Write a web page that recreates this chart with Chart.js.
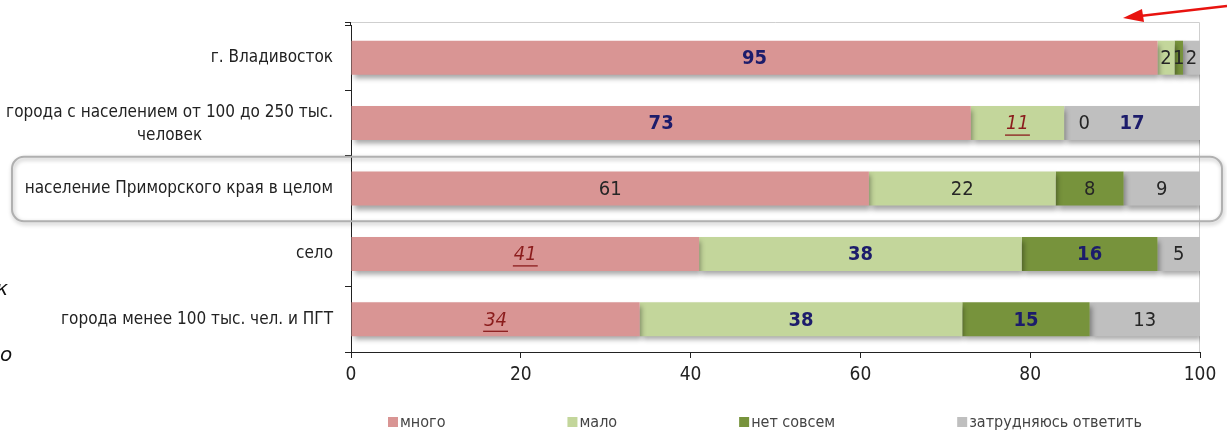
<!DOCTYPE html>
<html>
<head>
<meta charset="utf-8">
<script src="https://cdn.jsdelivr.net/npm/chart.js@4"></script>
<style>
  html, body { margin: 0; padding: 0; background: #fff; }
  #wrap { width: 1227px; height: 431px; position: relative; }
</style>
</head>
<body>
<div id="wrap"><canvas id="barChart"></canvas></div>
<script>
const groups = [
    "г. Владивосток",
    ["города с населением от 100 до 250 тыс.", "человек"],
    "население Приморского края в целом",
    "село",
    "города менее 100 тыс. чел. и ПГТ"
];
const series = ['много', 'мало', 'нет совсем', 'затрудняюсь ответить'];
const mnogo = [95, 73, 61, 41, 34];
const malo = [2, 11, 22, 38, 38];
const netSovsem = [1, 0, 8, 16, 15];
const zatrud = [2, 17, 9, 5, 13];
const xTicks = [0, 20, 40, 60, 80, 100];
// hi = выше среднего, lo = ниже среднего
const marks = [
    ['hi', 'hi', '', 'lo', 'lo'],
    ['', 'lo', '', 'hi', 'hi'],
    ['', '', '', 'hi', 'hi'],
    ['', 'hi', '', '', '']
];
const colors = ['#d99594', '#c3d69b', '#77933c', '#bfbfbf'];

const FONT = "'Liberation Sans Narrow', 'DejaVu Sans Condensed', 'Noto Sans', sans-serif";
const HILITE = 2; // строка в рамке

// тень под полосами
const shadowPlugin = {
    id: 'shadow',
    beforeDatasetsDraw(chart) {
        const ctx = chart.ctx;
        ctx.save();
        ctx.shadowColor = 'rgba(0,0,0,0.35)';
        ctx.shadowBlur = 5;
        ctx.shadowOffsetX = 2;
        ctx.shadowOffsetY = 4;
    },
    afterDatasetsDraw(chart) {
        chart.ctx.restore();
    }
};

// рамка области, подписи категорий, подписи значений, легенда, выделение, стрелка
const decorPlugin = {
    id: 'decor',
    beforeDraw(chart) {
        const { ctx, chartArea: a } = chart;
        ctx.save();
        ctx.strokeStyle = '#cfcfcf';
        ctx.lineWidth = 1;
        ctx.beginPath();
        ctx.moveTo(a.left, a.top - 2.5);
        ctx.lineTo(a.right - 0.5, a.top - 2.5);
        ctx.lineTo(a.right - 0.5, a.bottom);
        ctx.stroke();
        ctx.strokeStyle = '#222';
        ctx.beginPath();
        ctx.moveTo(a.left - 0.5, a.top - 3);
        ctx.lineTo(a.left - 0.5, a.top);
        ctx.moveTo(a.left - 6, a.top - 2.5);
        ctx.lineTo(a.left, a.top - 2.5);
        ctx.stroke();
        ctx.restore();
    },
    afterDraw(chart) {
        const { ctx, chartArea: a } = chart;
        const y = chart.scales.y;
        ctx.save();

        // подписи категорий
        ctx.fillStyle = '#222';
        ctx.font = '17px ' + FONT;
        ctx.textBaseline = 'middle';
        groups.forEach((g, i) => {
            const cy = y.getPixelForValue(i);
            const right = a.left - 18;
            if (Array.isArray(g)) {
                const w0 = ctx.measureText(g[0]).width;
                ctx.textAlign = 'right';
                ctx.fillText(g[0], right, cy - 11);
                ctx.textAlign = 'center';
                ctx.fillText(g[1], right - w0 / 2, cy + 12);
            } else {
                ctx.textAlign = 'right';
                ctx.fillText(g, right, cy);
            }
        });

        // подписи значений
        chart.data.datasets.forEach((ds, di) => {
            const meta = chart.getDatasetMeta(di);
            meta.data.forEach((bar, i) => {
                const v = ds.data[i];
                const x0 = Math.max(bar.base, a.left);
                const x1 = Math.min(bar.x, a.right);
                let cx = (x0 + x1) / 2;
                if (v === 0) cx += 20;
                const m = marks[di][i];
                const txt = String(v);
                if (m === 'hi') {
                    ctx.font = 'bold 20px ' + FONT;
                    ctx.fillStyle = '#1c1c6b';
                } else if (m === 'lo') {
                    ctx.font = 'italic 20px ' + FONT;
                    ctx.fillStyle = '#8b1c1c';
                } else {
                    ctx.font = '20px ' + FONT;
                    ctx.fillStyle = '#262626';
                }
                ctx.textAlign = 'center';
                ctx.textBaseline = 'middle';
                ctx.fillText(txt, cx, bar.y + 1);
                if (m === 'lo') {
                    const w = ctx.measureText(txt).width;
                    ctx.strokeStyle = '#8b1c1c';
                    ctx.lineWidth = 1.3;
                    ctx.beginPath();
                    ctx.moveTo(cx - w / 2 - 1, bar.y + 12);
                    ctx.lineTo(cx + w / 2 + 1, bar.y + 12);
                    ctx.stroke();
                }
            });
        });

        // легенда
        ctx.font = '16px ' + FONT;
        ctx.textAlign = 'left';
        ctx.textBaseline = 'middle';
        let lx = 388;
        const ly = 423;
        series.forEach((s, i) => {
            ctx.fillStyle = colors[i];
            ctx.fillRect(lx, ly - 6, 10, 10);
            ctx.fillStyle = '#444';
            ctx.fillText(s, lx + 12, ly);
            lx += 12 + ctx.measureText(s).width + 122;
        });

        // выделенная строка
        const hy = y.getPixelForValue(HILITE);
        const half = (y.getPixelForValue(1) - y.getPixelForValue(0)) / 2;
        ctx.shadowColor = 'rgba(0,0,0,0.3)';
        ctx.shadowBlur = 4;
        ctx.shadowOffsetX = 1;
        ctx.shadowOffsetY = 2;
        ctx.strokeStyle = '#b0b0b0';
        ctx.lineWidth = 2;
        ctx.beginPath();
        ctx.roundRect(12, hy - half + 1, 1210, half * 2 - 1, 12);
        ctx.stroke();
        ctx.shadowColor = 'transparent';

        // стрелка
        ctx.strokeStyle = '#e8130f';
        ctx.fillStyle = '#e8130f';
        ctx.lineWidth = 2.5;
        ctx.beginPath();
        ctx.moveTo(1227, 6);
        ctx.lineTo(1140, 16);
        ctx.stroke();
        ctx.beginPath();
        ctx.moveTo(1123, 18);
        ctx.lineTo(1142, 9);
        ctx.lineTo(1144, 22);
        ctx.closePath();
        ctx.fill();

        // обрывки текста слева
        ctx.fillStyle = '#111';
        ctx.font = 'italic 20px "DejaVu Sans", sans-serif';
        ctx.fillText('к', -4, 290);
        ctx.fillText('о', 0, 356);
        ctx.restore();
    }
};

const barContext = document.getElementById('barChart').getContext('2d');

//Stacked horizontal bar
new Chart(barContext, {
    type: 'bar',
    data: {
        labels: groups,
        datasets: [
            { label: series[0], data: mnogo, backgroundColor: colors[0] },
            { label: series[1], data: malo, backgroundColor: colors[1] },
            { label: series[2], data: netSovsem, backgroundColor: colors[2] },
            { label: series[3], data: zatrud, backgroundColor: colors[3] }
        ]
    },
    plugins: [shadowPlugin, decorPlugin],
    options: {
        indexAxis: 'y',
        responsive: true,
        maintainAspectRatio: false,
        animation: false,
        layout: { padding: { top: 25, right: 27, left: 0, bottom: 0 } },
        datasets: {
            bar: { categoryPercentage: 1, barPercentage: 0.52, borderWidth: 0 }
        },
        scales: {
            x: {
                stacked: true,
                min: 0,
                max: 100,
                afterBuildTicks(s) { s.ticks = xTicks.map(v => ({ value: v })); },
                ticks: { color: '#222', font: { size: 19, family: FONT }, padding: 6 },
                grid: { drawOnChartArea: false, tickLength: 6, color: '#222' },
                border: { color: '#222' },
                afterFit(s) { s.height = 79; }
            },
            y: {
                stacked: true,
                ticks: { display: false },
                grid: { drawOnChartArea: false, offset: true, tickLength: 6, color: '#222' },
                border: { color: '#222' },
                afterFit(s) { s.width = 351; }
            }
        },
        plugins: {
            tooltip: { enabled: false },
            legend: { display: false }
        }
    }
});
</script>
</body>
</html>
